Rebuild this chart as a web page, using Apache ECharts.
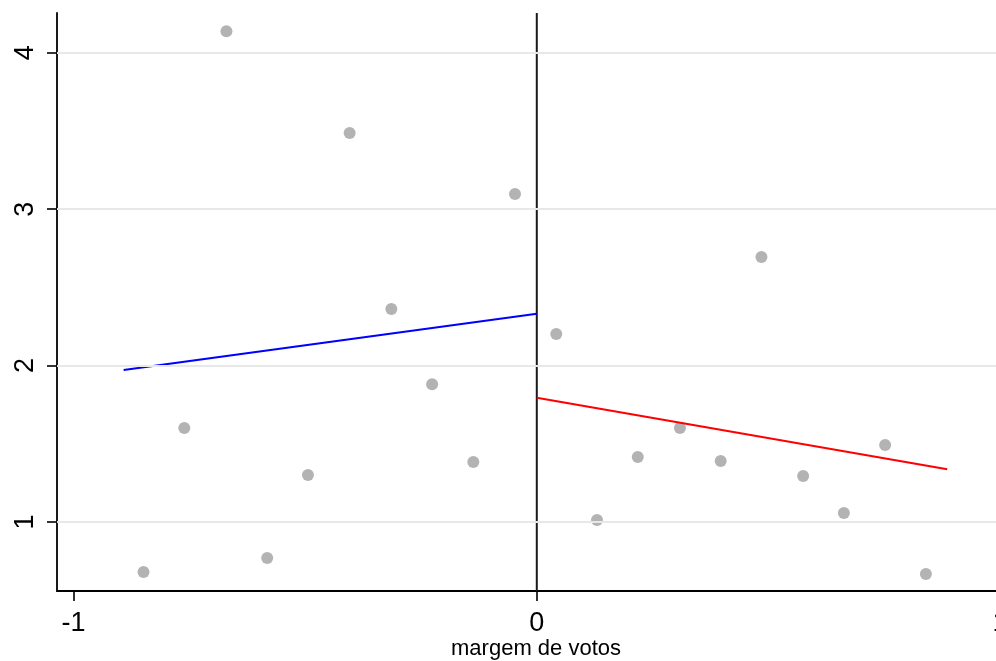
<!DOCTYPE html>
<html>
<head>
<meta charset="utf-8">
<script src="https://cdn.jsdelivr.net/npm/echarts@6/dist/echarts.min.js"></script>
<style>
  html, body { margin: 0; padding: 0; background: #ffffff; }
  #chart { width: 996px; height: 661px; }
</style>
</head>
<body>
<div id="chart"></div>
<script>
// Tick labels
const xTicks = [-1, 0, 1];
const yTicks = [1, 2, 3, 4];

// Binned means, left of the cutoff
const leftX = [-0.849, -0.761, -0.670, -0.582, -0.494, -0.404, -0.314, -0.226, -0.137, -0.047];
const leftY = [0.680, 1.601, 4.137, 0.770, 1.300, 3.487, 2.362, 1.880, 1.383, 3.097];

// Binned means, right of the cutoff
const rightX = [0.042, 0.130, 0.218, 0.309, 0.397, 0.485, 0.575, 0.663, 0.752, 0.840];
const rightY = [2.202, 1.013, 1.416, 1.601, 1.390, 2.694, 1.294, 1.057, 1.492, 0.667];

// Linear fits on each side
const fitLeftX = [-0.892, 0];
const fitLeftY = [1.972, 2.332];
const fitRightX = [0, 0.886];
const fitRightY = [1.795, 1.337];

// Cutoff
const cutoff = 0;

// Axis extents
const xMin = -1.0358, xMax = 1;
const yMin = 0.559, yMax = 4.254;

const pairs = (xs, ys) => xs.map((x, i) => [x, ys[i]]);

const chart = echarts.init(document.getElementById('chart'), null, { renderer: 'canvas' });

const font = 'Liberation Sans, Arial, sans-serif';

chart.setOption({
  backgroundColor: '#ffffff',
  animation: false,
  grid: { left: 57, right: -4, top: 13, bottom: 70, containLabel: false, outerBoundsMode: 'none' },
  xAxis: {
    type: 'value',
    min: xMin,
    max: xMax,
    name: 'margem de votos',
    nameLocation: 'middle',
    nameGap: 47,
    nameMoveOverlap: false,
    nameTextStyle: { color: '#000', fontSize: 22, fontFamily: font, padding: [0, 0, 0, 15] },
    axisLine: { show: true, onZero: false, lineStyle: { color: '#000', width: 1.8 } },
    axisTick: { show: true, length: 10, customValues: xTicks, lineStyle: { color: '#000', width: 1.6 } },
    axisLabel: { customValues: xTicks, margin: 19, color: '#000', fontSize: 27, fontFamily: font },
    splitLine: { show: false }
  },
  yAxis: {
    type: 'value',
    min: yMin,
    max: yMax,
    axisLine: { show: true, onZero: false, lineStyle: { color: '#000', width: 1.8 } },
    axisTick: { show: true, length: 10, customValues: yTicks, lineStyle: { color: '#000', width: 1.6 } },
    axisLabel: { customValues: yTicks, rotate: 90, margin: 18, color: '#000', fontSize: 27, fontFamily: font },
    splitLine: { show: false }
  },
  series: [
    {
      // horizontal reference lines at the y ticks
      type: 'line',
      data: [],
      z: 0,
      silent: true,
      markLine: {
        silent: true,
        symbol: 'none',
        label: { show: false },
        lineStyle: { color: '#e8e8e8', width: 2, type: 'solid' },
        data: yTicks.map(v => ({ yAxis: v }))
      }
    },
    {
      name: 'cutoff',
      type: 'line',
      data: [[cutoff, yMin], [cutoff, yMax]],
      showSymbol: false,
      symbol: 'none',
      lineStyle: { color: '#1a1a1a', width: 2 },
      z: 2,
      silent: true
    },
    {
      name: 'left bins',
      type: 'scatter',
      data: pairs(leftX, leftY),
      symbol: 'circle',
      symbolSize: 12,
      itemStyle: { color: '#a0a0a0' },
      z: 3
    },
    {
      name: 'right bins',
      type: 'scatter',
      data: pairs(rightX, rightY),
      symbol: 'circle',
      symbolSize: 12,
      itemStyle: { color: '#a0a0a0' },
      z: 3
    },
    {
      name: 'left fit',
      type: 'line',
      data: pairs(fitLeftX, fitLeftY),
      symbol: 'none',
      lineStyle: { color: '#0000ff', width: 2 },
      z: 4
    },
    {
      name: 'right fit',
      type: 'line',
      data: pairs(fitRightX, fitRightY),
      symbol: 'none',
      lineStyle: { color: '#ff0000', width: 2 },
      z: 4
    }
  ]
});
</script>
</body>
</html>
